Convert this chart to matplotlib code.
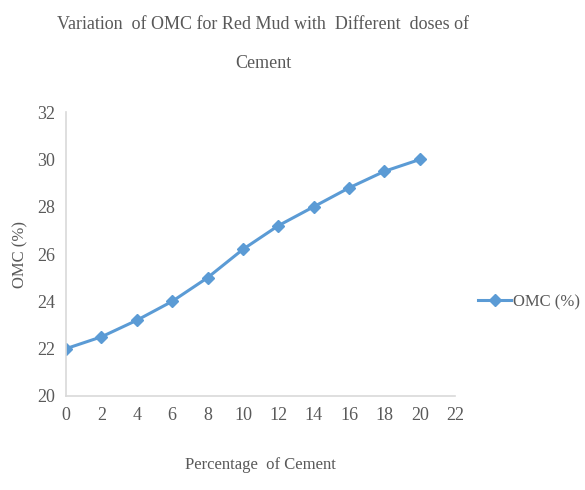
import matplotlib
matplotlib.use('Agg')
from matplotlib import pyplot as plt

# Data
cement = [0, 2, 4, 6, 8, 10, 12, 14, 16, 18, 20]
omc = [22.0, 22.5, 23.2, 24.0, 25.0, 26.2, 27.2, 28.0, 28.8, 29.5, 30.0]
x_ticks = list(range(0, 23, 2))
y_ticks = list(range(20, 33, 2))

plt.rcParams['font.family'] = ['Liberation Serif', 'DejaVu Serif']
text_col = '#595959'

fig = plt.figure(figsize=(5.85, 4.9), dpi=100)
ax = fig.add_axes([0.113, 0.192, 0.665, 0.579])

ax.plot(cement, omc, color='#5B9BD5', marker='D', markersize=6,
        linewidth=2.2, label='OMC (%)')

ax.set_xlim(0, 22)
ax.set_ylim(20, 32)
ax.set_xticks(x_ticks)
ax.set_yticks(y_ticks)
ax.tick_params(length=0, labelsize=13, labelcolor=text_col, pad=8)

for side in ['top', 'right']:
    ax.spines[side].set_visible(False)
for side in ['left', 'bottom']:
    ax.spines[side].set_color('#D9D9D9')
    ax.spines[side].set_linewidth(1.2)

ax.set_xlabel('Percentage  of Cement', fontsize=12, color=text_col, labelpad=24)
ax.set_ylabel('OMC (%)', fontsize=12, color=text_col, labelpad=6)

fig.text(0.45, 0.967, 'Variation  of OMC for Red Mud with  Different  doses of\nCement',
         fontsize=13, color=text_col, ha='center', va='top', linespacing=2.65)

ax.legend(loc='center left', bbox_to_anchor=(1.02, 0.33), frameon=False,
          fontsize=12, labelcolor=text_col, handlelength=2, handletextpad=0.1)

plt.savefig('out.png', dpi=100)
